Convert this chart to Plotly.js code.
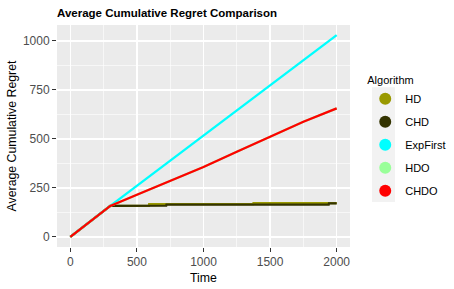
<!DOCTYPE html>
<html>
<head>
<meta charset="utf-8">
<script src="https://cdn.plot.ly/plotly-3.0.1.min.js"></script>
<style>html,body{margin:0;padding:0;background:#fff;}#chart{width:454px;height:289px;}</style>
</head>
<body>
<div id="chart"></div>
<script>
// Series names and colours
const algorithms = ["HD", "CHD", "ExpFirst", "HDO", "CHDO"];
const colors = ["#999900", "#333300", "#00FFFF", "#99FF99", "#FF0000"];

// Read values (time, average cumulative regret)
const hdTime = [0, 300, 590, 592, 1373, 1375, 2000];
const hdRegret = [0, 158, 159, 167, 167, 172, 172];

const chdTime = [0, 300, 720, 722, 1940, 1942, 2000];
const chdRegret = [0, 158, 160, 165, 165, 171, 171];

const expTime = [0, 300, 2000];
const expRegret = [0, 158, 1030];

const hdoTime = [0, 300, 500, 750, 1000, 1250, 1500, 1750, 2000];
const hdoRegret = [0, 158, 215, 285, 357, 435, 513, 588, 656];

const chdoTime = [0, 300, 500, 750, 1000, 1250, 1500, 1750, 2000];
const chdoRegret = [0, 158, 215, 285, 357, 435, 513, 588, 656];

const xTicks = [0, 500, 1000, 1500, 2000];
const yTicks = [0, 250, 500, 750, 1000];

const seriesX = [hdTime, chdTime, expTime, hdoTime, chdoTime];
const seriesY = [hdRegret, chdRegret, expRegret, hdoRegret, chdoRegret];

const traces = [];
algorithms.forEach((name, i) => {
  traces.push({
    x: seriesX[i], y: seriesY[i], type: "scatter", mode: "lines",
    name: name, line: {color: colors[i], width: 2.3}, showlegend: false,
    hoverinfo: "skip"
  });
});
algorithms.forEach((name, i) => {
  traces.push({
    x: [null], y: [null], type: "scatter", mode: "markers",
    name: name, legendgroup: name,
    marker: {color: colors[i], size: 12, symbol: "circle"}, showlegend: true
  });
});

const font = "'Liberation Sans', Arial, sans-serif";
const layout = {
  width: 454, height: 289,
  margin: {l: 57, r: 104, t: 25, b: 42, pad: 0, autoexpand: false},
  paper_bgcolor: "#FFFFFF", plot_bgcolor: "#EBEBEB",
  font: {family: font, size: 11, color: "#000000"},
  title: {text: "<b>Average Cumulative Regret Comparison</b>", font: {family: font, size: 11.5, color: "#000000"},
          x: 57/454, xanchor: "left", xref: "container", y: 1 - 12.5/289, yanchor: "middle", yref: "container"},
  xaxis: {
    range: [-100, 2100], tickvals: xTicks, ticktext: xTicks.map(String),
    showgrid: true, gridcolor: "#FFFFFF", gridwidth: 1.2, zeroline: false,
    ticks: "outside", ticklen: 4, tickwidth: 1, tickcolor: "#333333",
    tickfont: {family: font, size: 12, color: "#4D4D4D"},
    minor: {dtick: 250, tick0: 0, showgrid: true, gridcolor: "#FFFFFF", gridwidth: 0.6, ticks: ""},
    title: {text: "Time", font: {family: font, size: 12.3, color: "#000000"}, standoff: 4},
    showline: false, automargin: false
  },
  yaxis: {
    range: [-51.5, 1081.5], tickvals: yTicks, ticktext: yTicks.map(String),
    showgrid: true, gridcolor: "#FFFFFF", gridwidth: 1.2, zeroline: false,
    ticks: "outside", ticklen: 4, tickwidth: 1, tickcolor: "#333333",
    tickfont: {family: font, size: 12, color: "#4D4D4D"},
    minor: {dtick: 125, tick0: 0, showgrid: true, gridcolor: "#FFFFFF", gridwidth: 0.6, ticks: ""},
    title: {text: "Average Cumulative Regret", font: {family: font, size: 12.3, color: "#000000"}, standoff: 3},
    showline: false, automargin: false
  },
  legend: {
    x: 1.052, xanchor: "left", y: 0.797, yanchor: "top",
    bgcolor: "rgba(0,0,0,0)", borderwidth: 0,
    title: {text: "Algorithm", font: {family: font, size: 11, color: "#000000"}},
    font: {family: font, size: 11, color: "#000000"},
    traceorder: "grouped", tracegroupgap: 4, itemwidth: 30, itemsizing: "trace"
  },
  shapes: [{
    type: "rect", xref: "paper", yref: "paper",
    x0: 1.075, x1: 1.1536, y0: 0.2027, y1: 0.7194,
    fillcolor: "#F2F2F2", line: {width: 0}, layer: "below"
  }],
  showlegend: true
};

Plotly.newPlot("chart", traces, layout, {displayModeBar: false, staticPlot: true});
</script>
</body>
</html>
